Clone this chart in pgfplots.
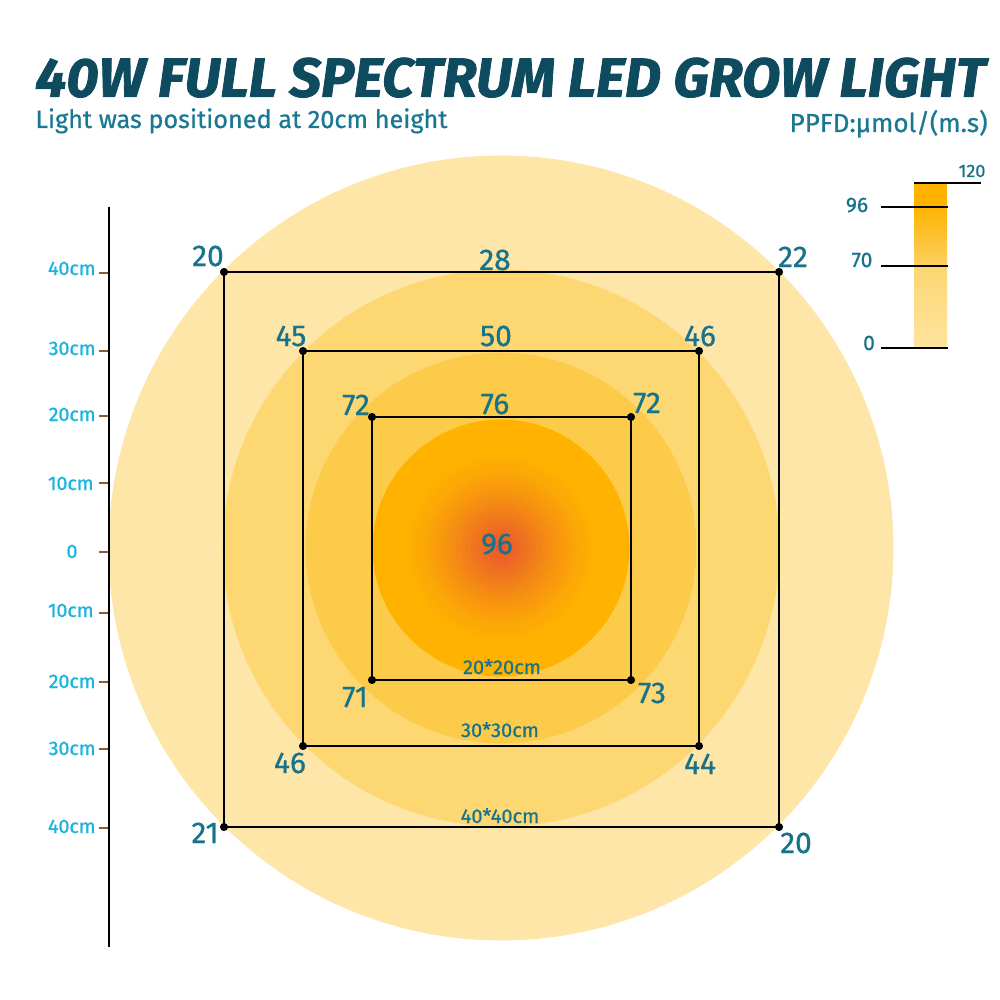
\documentclass[border=0pt]{standalone}
\usepackage{fontspec}
\setmainfont{Fira Sans}
\newfontfamily\numfont{Fira Sans}[FakeBold=0.7]
\newfontfamily\axisfont{Fira Sans}[FakeBold=1.1]
\newfontfamily\titlefont{Fira Sans}[FakeBold=1.5]
\usepackage{graphicx}
\usepackage{pgfplots}
\pgfplotsset{compat=1.18}

\definecolor{titleteal}{HTML}{0E4B5E}
\definecolor{subteal}{HTML}{1B7893}
\definecolor{numteal}{HTML}{17728C}
\definecolor{axiscyan}{HTML}{1BB4DF}
\definecolor{tickbrown}{HTML}{8C5A36}
\definecolor{ring1}{HTML}{FEE6A8}
\definecolor{ring2}{HTML}{FDD872}
\definecolor{ring3}{HTML}{FDCB4A}
\definecolor{ring4}{HTML}{FFB300}
\definecolor{glowred}{HTML}{E8562E}
\definecolor{barmid}{HTML}{FDD062}
\definecolor{barlowtop}{HTML}{FDD672}
\definecolor{barlowbot}{HTML}{FEE4A0}

% pixel grid of the reference: 1 px = 0.5pt
\newcommand\bignum{\numfont\fontsize{15pt}{18pt}\selectfont}
\newcommand\smallnum{\numfont\fontsize{10pt}{12pt}\selectfont}
\newcommand\axisnum{\axisfont\fontsize{9.8pt}{12pt}\selectfont}

\begin{document}
\begin{tikzpicture}
\begin{axis}[
    width=500pt, height=500pt, scale only axis,
    xmin=0, xmax=1000, ymin=0, ymax=1000, y dir=reverse,
    axis lines=none, clip=false, clip marker paths=true,
    unbounded coords=jump,
    colormap={glow}{color=(ring4) color=(glowred)},
]
% page background
\addplot[draw=none, fill=white] coordinates {(0,0)(1000,0)(1000,1000)(0,1000)} --cycle;

% PPFD rings (radius in px / 2 = pt)
\addplot[ring1, only marks, mark=*, mark size=196pt, mark options={draw=ring1, fill=ring1}] coordinates {(501,548)};
\addplot[ring2, only marks, mark=*, mark size=139pt, mark options={draw=ring2, fill=ring2}] coordinates {(501,548)};
\addplot[ring3, only marks, mark=*, mark size=97.5pt, mark options={draw=ring3, fill=ring3}] coordinates {(501,548)};
\addplot[ring4, only marks, mark=*, mark size=64pt, mark options={draw=ring4, fill=ring4}] coordinates {(501,548)};

% hot spot at the centre
\addplot[scatter, only marks, mark=*,
    point meta=explicit, point meta min=0, point meta max=100,
    scatter/use mapped color={draw=mapped color, fill=mapped color},
    visualization depends on={\thisrow{r} \as \rad},
    scatter/@pre marker code/.append style={/tikz/mark size=\rad/2}]
    table[x=x, y=y, meta=p] {
x   y   r  p
501 548 95 2
501 548 90 5
501 548 85 8
501 548 80 12
501 548 75 16
501 548 70 21
501 548 65 26
501 548 60 31
501 548 55 36
501 548 50 42
501 548 45 47
501 548 40 53
501 548 35 59
501 548 30 65
501 548 25 71
501 548 20 77
501 548 15 83
501 548 10 89
501 548 5  95
};

% measuring squares
\addplot[black, line width=1.2pt] coordinates {(224,272)(779,272)(779,827)(224,827)(224,272)};
\addplot[black, line width=1.2pt] coordinates {(303,351)(699,351)(699,746)(303,746)(303,351)};
\addplot[black, line width=1.2pt] coordinates {(372,417)(631,417)(631,680)(372,680)(372,417)};
\addplot[only marks, mark=*, mark size=1.8pt, black] coordinates {
    (224,272)(779,272)(779,827)(224,827)
    (303,351)(699,351)(699,746)(303,746)
    (372,417)(631,417)(631,680)(372,680)
};

% readings
\begin{scope}[every node/.style={text=numteal, inner sep=0pt, anchor=base}]
\node[font=\bignum] at (208,266) {20};
\node[font=\bignum] at (495,270) {28};
\node[font=\bignum] at (793,267) {22};
\node[font=\bignum] at (291,346) {45};
\node[font=\bignum] at (496,346) {50};
\node[font=\bignum] at (700,346) {46};
\node[font=\bignum] at (356,415) {72};
\node[font=\bignum] at (495,414) {76};
\node[font=\bignum] at (647,413) {72};
\node[font=\bignum] at (497,554) {96};
\node[font=\bignum] at (355,707) {71};
\node[font=\bignum] at (652,703) {73};
\node[font=\bignum] at (290,773) {46};
\node[font=\bignum] at (700,774) {44};
\node[font=\bignum] at (205,843) {21};
\node[font=\bignum] at (796,853) {20};
\node[font=\smallnum] at (502,674) {20*20cm};
\node[font=\smallnum] at (500,737) {30*30cm};
\node[font=\smallnum] at (500,823) {40*40cm};
\end{scope}

% left distance scale
\addplot[black, line width=1.2pt] coordinates {(109,207)(109,947)};
\addplot[tickbrown, line width=0.9pt] coordinates {
    (99,273)(108,273)(99,nan)
    (99,351)(108,351)(99,nan)
    (99,416)(108,416)(99,nan)
    (99,483)(108,483)(99,nan)
    (99,552)(108,552)(99,nan)
    (99,613)(108,613)(99,nan)
    (99,682)(108,682)(99,nan)
    (99,749)(108,749)(99,nan)
    (99,828)(108,828)
};
\begin{scope}[every node/.style={text=axiscyan, font=\axisnum, inner sep=0pt, anchor=base east}]
\node at (96,275) {40cm};
\node at (96,355) {30cm};
\node at (96,421) {20cm};
\node at (94,490) {10cm};
\node[anchor=base] at (72,558) {0};
\node at (94,617) {10cm};
\node at (96,688) {20cm};
\node at (96,755) {30cm};
\node at (96,833) {40cm};
\end{scope}

% colour key
\addplot[draw=none, fill=ring4] coordinates {(914,183)(947,183)(947,207)(914,207)} --cycle;
\addplot[draw=none, top color=ring4, bottom color=barmid] coordinates {(914,206)(947,206)(947,266)(914,266)} --cycle;
\addplot[draw=none, top color=barlowtop, bottom color=barlowbot] coordinates {(914,265)(947,265)(947,348)(914,348)} --cycle;
\addplot[black, line width=0.9pt] coordinates {
    (914,183)(981,183)(914,nan)
    (881,207)(948,207)(881,nan)
    (881,266)(948,266)(881,nan)
    (881,348)(948,348)
};
\begin{scope}[every node/.style={text=numteal, inner sep=0pt, anchor=base}]
\node[font=\numfont\fontsize{9pt}{11pt}\selectfont] at (972,177) {120};
\node[font=\numfont\fontsize{10.5pt}{12pt}\selectfont] at (857,212) {96};
\node[font=\numfont\fontsize{10.5pt}{12pt}\selectfont] at (862,267) {70};
\node[font=\numfont\fontsize{10.5pt}{12pt}\selectfont] at (869,350) {0};
\end{scope}

% titles
\node[anchor=south west, inner sep=0pt, text=titleteal] at (35,98)
    {\resizebox{475pt}{19.5pt}{\titlefont\bfseries\itshape 40W FULL SPECTRUM LED GROW LIGHT}};
\node[anchor=base west, inner sep=0pt, text=subteal] at (35,128)
    {\resizebox{206pt}{!}{\numfont\fontsize{12pt}{14pt}\selectfont Light was positioned at 20cm height}};
\node[anchor=base east, inner sep=0pt, text=subteal] at (988,132)
    {\resizebox{99pt}{!}{\numfont\fontsize{11pt}{13pt}\selectfont PPFD:µmol/(m.s)}};
\end{axis}
\end{tikzpicture}
\end{document}
